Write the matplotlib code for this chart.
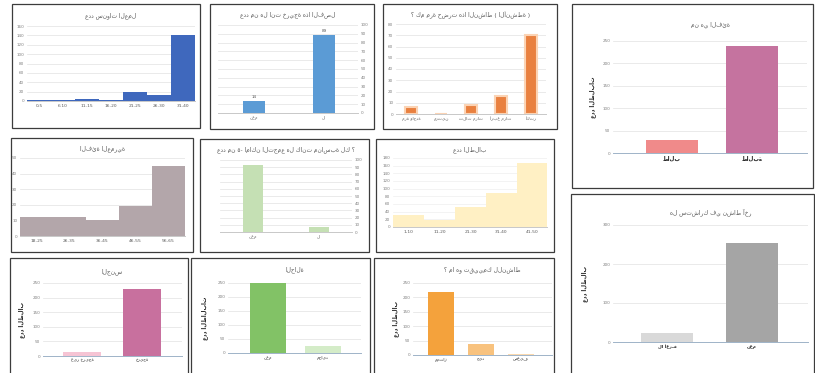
import matplotlib
matplotlib.use("Agg")
import matplotlib.pyplot as plt
from matplotlib.patches import Rectangle

plt.rcParams['font.family'] = ['DejaVu Sans']

W, H = 815, 373
fig = plt.figure(figsize=(W / 100, H / 100), dpi=100)
fig.patch.set_facecolor('white')

# ---------------- data ----------------
p1_title = "عدد سنوات العمل"
p1_cats = ["0-5", "6-10", "11-15", "16-20", "21-25", "26-30", "31-40"]
p1_vals = [2, 2, 5, 2, 20, 12, 140]

p2_title = "عدد من هل انت خريجة هذا الفصل"
p2_cats = ["نعم", "لا"]
p2_vals = [14, 89]

p3_title = "؟ كم مرة حضرت هذا النشاط ( الأنشطة )"
p3_cats = ["مرة واحدة", "مرتين", "ثلاث مرات", "أربع مرات", "أكثر"]
p3_vals = [6, 0, 8, 16, 70]

p4_title = "من هي الفئة"
p4_ylabel = "عدد الطلبات"
p4_cats = ["طالب", "طالبة"]
p4_vals = [30, 239]

p5_title = "الفئة العمرية"
p5_cats = ["18-25", "26-35", "36-45", "46-55", "56-65"]
p5_vals = [12, 12, 10, 19, 45]

p6_title = "عدد من ٥- اماكن التجمع هل كانت مناسبة لك ؟"
p6_cats = ["نعم", "لا"]
p6_vals = [93, 7]

p7_title = "عدد الطلاب"
p7_cats = ["1-10", "11-20", "21-30", "31-40", "41-50"]
p7_vals = [31, 18, 52, 89, 167]

p8_title = "الجنس"
p8_ylabel = "عدد الطلاب"
p8_cats = ["غير خريجة", "خريجة"]
p8_vals = [15, 230]

p9_title = "الحالة"
p9_ylabel = "عدد الطالبات"
p9_cats = ["نعم", "محايد"]
p9_vals = [250, 25]

p10_title = "؟ ما هو تقييمك للنشاط"
p10_ylabel = "عدد الطلاب"
p10_cats = ["ممتاز", "جيد", "ضعيف"]
p10_vals = [219, 38, 3]

p11_title = "هل ستشارك في نشاط آخر"
p11_ylabel = "عدد الطلاب"
p11_cats = ["لا أعرف", "نعم"]
p11_vals = [23, 254]


# ---------------- helpers ----------------
def box(x0, y0, x1, y1):
    fig.add_artist(Rectangle((x0 / W, 1 - y1 / H), (x1 - x0) / W, (y1 - y0) / H,
                             transform=fig.transFigure, fill=False,
                             ec='#3c3c3c', lw=0.9))


def panel(rect, cats, vals, colors, ymax, ystep, c0, sp, width,
          title=None, title_y=None, ylabel=None, ylabel_x=None,
          right=False, labels=False, edge=None, elw=0, tfs=4.2,
          grid_c='#e2e2e2', base_c='#c8c8c8', xfs=3.2, xcol='#595959',
          xweight='normal'):
    x0, y0, x1, y1 = rect
    ax = fig.add_axes([x0 / W, 1 - y1 / H, (x1 - x0) / W, (y1 - y0) / H])
    ax.set_facecolor('none')
    n = len(cats)
    xs = list(range(n))
    bars = ax.bar(xs, vals, width=width, color=colors, zorder=3,
                  edgecolor=edge if edge else 'none', linewidth=elw)
    ax.set_xlim((x0 - c0) / sp, (x1 - c0) / sp)
    ax.set_ylim(0, ymax)
    ticks = [i * ystep for i in range(int(round(ymax / ystep)) + 1)]
    ax.set_yticks(ticks)
    ax.set_yticklabels([str(t) for t in ticks], fontsize=3, color='#7f7f7f')
    ax.set_xticks(xs)
    ax.set_xticklabels(cats, fontsize=xfs, color=xcol, fontweight=xweight)
    ax.tick_params(length=0, pad=2)
    if right:
        ax.yaxis.tick_right()
    for s in ['top', 'left', 'right']:
        ax.spines[s].set_visible(False)
    ax.spines['bottom'].set_color(base_c)
    ax.spines['bottom'].set_linewidth(0.7)
    ax.grid(axis='y', color=grid_c, lw=0.5, zorder=0)
    ax.set_axisbelow(True)
    if labels:
        for b, v in zip(bars, vals):
            ax.text(b.get_x() + b.get_width() / 2, v + ymax * 0.02, str(v),
                    ha='center', va='bottom', fontsize=3, color='#595959')
    if title:
        fig.text((x0 + x1) / 2 / W, 1 - title_y / H, title, ha='center',
                 va='center', fontsize=tfs, color='#595959')
    if ylabel:
        fig.text(ylabel_x / W, 1 - (y0 + y1) / 2 / H, ylabel, rotation=90,
                 ha='center', va='center', fontsize=4, color='#262626',
                 fontweight='bold')
    return ax


# ---------------- borders ----------------
box(12, 4, 200, 128)
box(210, 4, 374, 129)
box(383, 4, 557, 129)
box(572, 4, 813, 188)
box(11, 138, 193, 252)
box(200, 139, 369, 252)
box(376, 139, 554, 252)
box(10, 258, 188, 376)
box(191, 258, 370, 376)
box(374, 258, 554, 376)
box(571, 194, 814, 376)

# ---------------- panels ----------------
# P1 blue histogram
panel((27, 26, 195, 101), p1_cats, p1_vals, '#3f68bd', 160, 20,
      39, 24, 1.0, title=p1_title, title_y=16)

# P2 blue bars, right axis
panel((218, 25, 358, 113), p2_cats, p2_vals, '#5b9bd5', 100, 10,
      254, 70, 0.31, title=p2_title, title_y=15, right=True, labels=True)

# P3 orange bars
panel((396, 24, 546, 114), p3_cats, p3_vals, '#e9803f', 80, 10,
      411, 30, 0.4, title=p3_title, title_y=15, edge='#fbd3b4', elw=1.5)

# P4 pink bars
panel((613, 41, 807, 153), p4_cats, p4_vals, ['#f08a8a', '#c5739f'], 250, 50,
      672, 80, 0.64, title=p4_title, title_y=25, ylabel=p4_ylabel,
      ylabel_x=593, base_c='#9fb3c8', xfs=4, xcol='#262626', xweight='bold')

# P5 grey-mauve histogram
panel((20, 158, 185, 236), p5_cats, p5_vals, '#b3a6aa', 50, 10,
      36.5, 33, 1.0, title=p5_title, title_y=149)

# P6 light green bars, right axis
panel((220, 160, 352, 232), p6_cats, p6_vals, '#c5e0b4', 100, 10,
      253, 66, 0.3, title=p6_title, title_y=150, right=True)

# P7 light yellow histogram
panel((393, 158, 547, 227), p7_cats, p7_vals, '#fff0c4', 180, 20,
      408.5, 31, 1.0, title=p7_title, title_y=150, grid_c='#efefef')

# P8 pink bars
panel((43, 283, 182, 356), p8_cats, p8_vals, ['#f6c4d4', '#c8709e'], 250, 50,
      82, 60, 0.62, title=p8_title, title_y=272, ylabel=p8_ylabel,
      ylabel_x=22, base_c='#9fb3c8', xcol='#262626')

# P9 green bars
panel((228, 283, 361, 353), p9_cats, p9_vals, ['#82c266', '#d4ecc8'], 250, 50,
      268, 55, 0.64, title=p9_title, title_y=270, ylabel=p9_ylabel,
      ylabel_x=205, base_c='#9fb3c8', xcol='#262626')

# P10 orange bars
panel((413, 283, 552, 355), p10_cats, p10_vals, ['#f4a23c', '#f8c27e', '#fbd9ae'],
      250, 50, 441, 40, 0.66, title=p10_title, title_y=270,
      ylabel=p10_ylabel, ylabel_x=396, base_c='#9fb3c8', xcol='#262626')

# P11 grey bars
panel((613, 225, 808, 342), p11_cats, p11_vals, ['#d9d9d9', '#a5a5a5'], 300, 100,
      667, 85, 0.62, title=p11_title, title_y=212, ylabel=p11_ylabel,
      ylabel_x=585, base_c='#9fb3c8', xcol='#262626', xweight='bold')

fig.savefig('out.png', dpi=100, facecolor='white')
